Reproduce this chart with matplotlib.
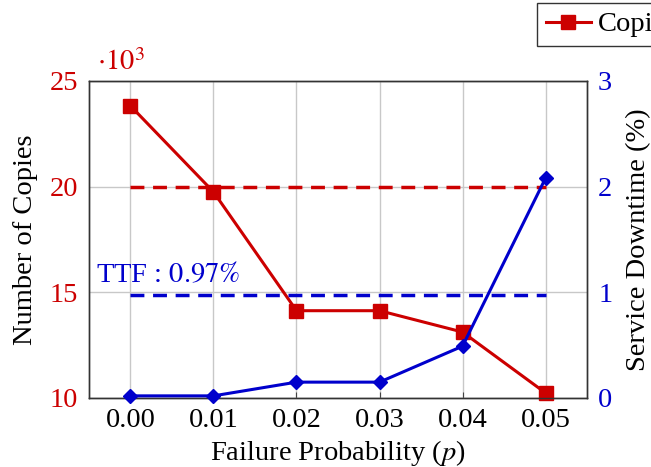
import matplotlib
matplotlib.use("Agg")
import matplotlib.pyplot as plt

plt.rcParams['font.family'] = ['Liberation Serif', 'DejaVu Serif']
plt.rcParams['mathtext.fontset'] = 'stix'

# data
failure_prob = [0.00, 0.01, 0.02, 0.03, 0.04, 0.05]
copies_k = [23.82, 19.75, 14.13, 14.13, 13.12, 10.24]
downtime = [0.02, 0.02, 0.15, 0.15, 0.49, 2.08]
copies_target_k = 20
ttf_downtime = 0.97

RED = "#cc0000"
BLUE = "#0000cc"
GRID = "#c8c8c8"
FS = 20.5

fig = plt.figure(figsize=(6.51, 4.67), dpi=100)
ax = fig.add_axes([0.1367, 0.1478, 0.765, 0.6788])
ax2 = ax.twinx()

ax.set_xlim(-0.005, 0.055)
ax.set_ylim(10, 25)
ax2.set_ylim(0, 3)

ax.set_xticks(failure_prob)
ax.set_xticklabels([f"{v:.2f}" for v in failure_prob])
ax.set_yticks([10, 15, 20, 25])
ax2.set_yticks([0, 1, 2, 3])

ax.grid(True, color=GRID, lw=1.0, zorder=0)
ax.set_axisbelow(True)

# reference lines
ax.plot([failure_prob[0], failure_prob[-1]], [copies_target_k] * 2,
        color=RED, lw=2.5, ls=(0, (4, 2.5)), zorder=2)
ax2.plot([failure_prob[0], failure_prob[-1]], [ttf_downtime] * 2,
         color=BLUE, lw=2.5, ls=(0, (4, 2.5)), zorder=2)

# series
l1, = ax.plot(failure_prob, copies_k, color=RED, lw=2.2, marker='s',
              ms=10, label='Copies', zorder=3, clip_on=False)
ax2.plot(failure_prob, downtime, color=BLUE, lw=2.2, marker='D',
         ms=7, zorder=3, clip_on=False)

ax2.text(-0.0042, 1.09, r"TTF : $0.97\%$", color=BLUE, fontsize=FS,
         va='baseline', ha='left')
ax.text(0.016, 1.035, r"$\cdot 10^3$", color=RED, fontsize=FS,
        transform=ax.transAxes, va='baseline', ha='left')

for a in (ax, ax2):
    for s in a.spines.values():
        s.set_color('#333333')
        s.set_linewidth(1.0)

ax.tick_params(axis='x', direction='in', length=4, labelsize=FS,
               color='#444444', pad=7)
ax.tick_params(axis='y', direction='in', length=0, labelsize=FS,
               labelcolor=RED, pad=8)
ax2.tick_params(axis='y', direction='in', length=0, labelsize=FS,
                labelcolor=BLUE, pad=8)

ax.set_xlabel(r"Failure Probability ($p$)", fontsize=FS, labelpad=4)
ax.set_ylabel("Number of Copies", fontsize=FS, labelpad=8)
ax2.set_ylabel("Service Downtime (%)", fontsize=FS, labelpad=10)

fig.legend(handles=[l1], loc='upper left',
           bbox_to_anchor=(537 / 651, 1 - 3 / 467),
           fontsize=FS, frameon=True, fancybox=False, edgecolor='black',
           borderpad=0.3, handlelength=1.6, handletextpad=0.25,
           borderaxespad=0)

fig.savefig("out.png", dpi=100)
